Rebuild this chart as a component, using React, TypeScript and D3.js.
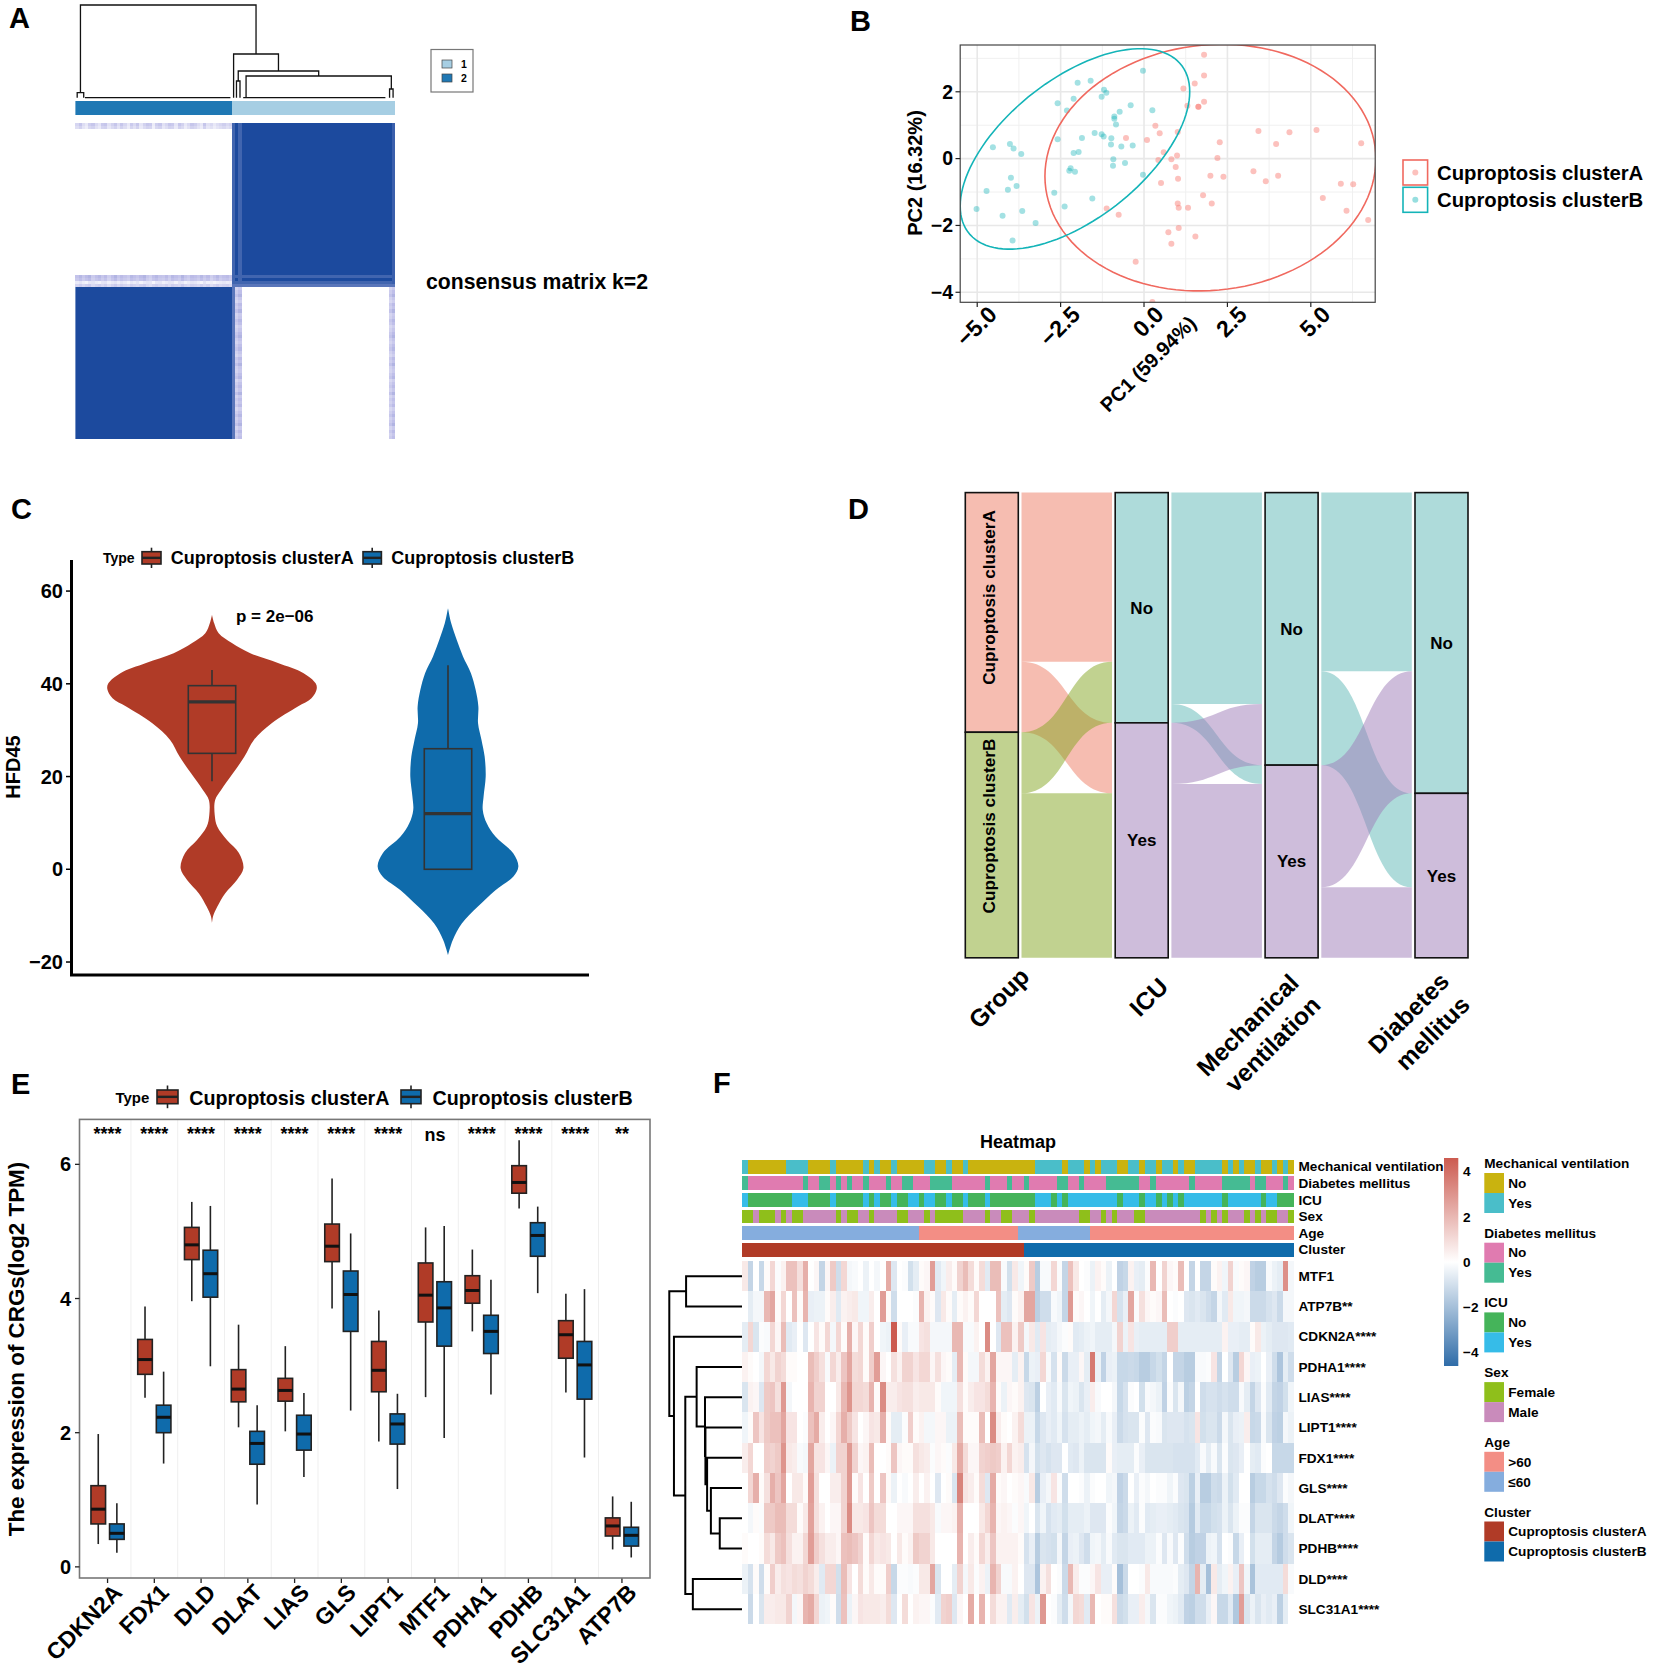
import React from 'react';
import * as d3 from 'd3';

const FONT = "'Liberation Sans', Arial, sans-serif";
const RED = '#B03B27';
const BLUE = '#0F6BAB';
const clusterNames = ['Cuproptosis clusterA', 'Cuproptosis clusterB'];

type Tree = number | { h: number; l: Tree; r: Tree };

// ---- A: consensus matrix
const consensusTree: Tree = {
  h: 92.7,
  l: { h: 5, l: 0.56, r: 2.6 },
  r: {
    h: 43.7,
    l: 49.5,
    r: {
      h: 26.7,
      l: { h: 16.7, l: 50.4, r: 51.5 },
      r: { h: 21.7, l: 53.4, r: { h: 8.7, l: 98.3, r: 99.4 } },
    },
  },
};
const consensusCombs = [[3, 48.5], [52.5, 97]];
const consensusLeftSize = 49;
const consensusTopSize = 51;
const consensusTopStripe = [.22, .3, .18, .12, .26, .3, .2, .14, .28, .3, .16, .24, .3, .18, .3, .22, .12, .28, .2, .3, .14, .24, .3, .28, .1, .26, .3, .16, .22, .3, .28, .14, .3, .24, .12, .2, .3, .26, .18, .12, .3, .16, .2, .12, .18, .22, .26, .2, .24];
const consensusMidStripe = [.32, .38, .3, .36, .4, .28, .34, .38, .3, .36, .26, .34, .4, .3, .36, .32, .28, .38, .34, .3, .36, .4, .3, .26, .34, .38, .32, .3, .36, .28, .38, .34, .3, .4, .32, .28, .36, .34, .3, .38, .3, .36, .26, .32, .38, .3, .34, .36, .3];
const consensusSideStripe = [.36, .28, .34, .4, .3, .26, .36, .32, .4, .28, .3, .38, .34, .26, .3, .36, .4, .32, .28, .34, .38, .3, .26, .36, .32, .4, .3, .28, .34, .38, .26, .32, .36, .3, .4, .28, .34, .3, .36, .26, .32, .38, .3, .34, .4, .28, .36, .3, .34];

// ---- B: PCA
const pcaA = [[1.8, 3.11], [1.8, 2.49], [1.52, 2.25], [1.18, 2.1], [1.8, 1.7], [1.3, 1.58], [1.63, 1.55], [1.63, 1.55], [.34, .98], [.47, .76], [-.54, .62], [.09, .56], [1.01, .8], [2.27, .49], [3.43, .83], [4.36, .79], [5.17, .86], [3.96, .44], [6.51, .46], [.59, .19], [.99, .09], [2.2, .02], [.82, -.02], [.43, -.04], [.95, -.25], [1.99, -.51], [2.38, -.54], [3.28, -.38], [4.02, -.51], [3.65, -.68], [.51, -.73], [1.02, -.6], [5.9, -.75], [6.27, -.77], [5.36, -1.18], [6.07, -1.56], [6.72, -1.84], [1.77, -1.1], [2.03, -1.34], [1.01, -1.34], [1.32, -1.47], [1.04, -1.47], [-1.12, -1.49], [-.76, -1.68], [1.04, -2.08], [.73, -2.2], [1.54, -2.33], [.82, -2.55], [-.25, -3.09], [.25, -4.29]];
const pcaB = [[-.03, 2.63], [-1.99, 2.27], [-1.6, 2.33], [-1.2, 2.06], [-1.13, 1.97], [-1.27, 1.85], [-2.11, 1.79], [-2.59, 1.66], [-2.31, 1.44], [-.4, 1.6], [.25, 1.45], [-.73, 1.4], [-.89, 1.26], [-.89, 1.19], [-.84, 1.02], [-2.59, .58], [-1.86, .62], [-1.48, .77], [-1.27, .73], [-1.21, .66], [-.98, .61], [-.99, .42], [-.68, .36], [-.34, .39], [-4.53, .34], [-4.02, .44], [-3.91, .3], [-3.68, .14], [-2.11, .17], [-1.96, .2], [-.92, -.02], [-.93, -.21], [-.57, -.13], [-2.2, -.29], [-2.24, -.36], [-2.07, -.39], [-.03, -.48], [-3.99, -.57], [-3.82, -.82], [-4.08, -.93], [-4.72, -.97], [-2.69, -1.02], [-1.55, -1.19], [-2.38, -1.43], [-3.65, -1.57], [-5.02, -1.51], [-4.24, -1.71], [-3.25, -1.93], [-3.94, -2.45]];
// centre x, centre y, half width, half height, phase in degrees
const ellipseA = [1.99, -.27, 4.96, 3.69, 4];
const ellipseB = [-2.07, .29, 3.44, 3.0, 34.8];
const pcaXTicks = [-5, -2.5, 0, 2.5, 5];
const pcaXMinor = [-3.75, -1.25, 1.25, 3.75, 6.25];
const pcaYTicks = [2, 0, -2, -4];
const pcaYMinor = [3, 1, -1, -3];

// ---- C: violins, [HFD45, relative density]
const violinA = [[54.9, 0], [53.1, .02], [50.9, .064], [48.8, .19], [46.6, .366], [44.5, .63], [42.3, .875], [40.1, .99], [38.9, 1], [36.9, .95], [35.1, .82], [31.5, .57], [27.9, .4], [24.3, .31], [20.7, .2], [17.1, .087], [14.96, .03], [11.7, .026], [9.2, .05], [6.3, .143], [3.5, .257], [.2, .3], [-2.3, .238], [-5.2, .125], [-8.1, .05], [-10.1, .011], [-11.6, 0]];
const violinB = [[56.3, 0], [53.1, .03], [49.5, .083], [45.9, .143], [42.3, .219], [38.7, .264], [35.1, .29], [31.5, .287], [27.9, .32], [24.3, .35], [20, .36], [15.7, .34], [12.8, .332], [9.9, .37], [7.05, .453], [3.45, .623], [.58, .672], [-1.6, .623], [-4.5, .453], [-8.1, .283], [-11.7, .132], [-15.3, .045], [-18.5, 0]];
// whisker top, q3, median, q1, whisker bottom
const hfdBoxA = [43, 39.6, 36.1, 25, 19];
const hfdBoxB = [44, 26, 12, 0, 0];
const hfdTicks = [60, 40, 20, 0, -20];

// ---- D: alluvial, [from, to, patients]
const alluvialAxes = ['Group', 'ICU', 'Mechanical ventilation', 'Diabetes mellitus'];
const groupToIcu: [string, string, number][] = [['A', 'No', 36], ['A', 'Yes', 15], ['B', 'No', 13], ['B', 'Yes', 35]];
const icuToVent: [string, string, number][] = [['No', 'No', 45], ['No', 'Yes', 4], ['Yes', 'No', 13], ['Yes', 'Yes', 37]];
const ventToDiab: [string, string, number][] = [['No', 'No', 38], ['No', 'Yes', 20], ['Yes', 'No', 26], ['Yes', 'Yes', 15]];
const alluvialFill: Record<string, string> = { A: '#ED7B63', B: '#83A521', No: '#5DB7B5', Yes: '#9D7BB7' };
const alluvialSolid: Record<string, string> = { A: '#F6BDB1', B: '#C1D290', No: '#AEDBDA', Yes: '#CEBDDB' };

// ---- E: boxes, [whisker top, q3, median, q1, whisker bottom]
const crgGenes = ['CDKN2A', 'FDX1', 'DLD', 'DLAT', 'LIAS', 'GLS', 'LIPT1', 'MTF1', 'PDHA1', 'PDHB', 'SLC31A1', 'ATP7B'];
const crgSig = ['****', '****', '****', '****', '****', '****', '****', 'ns', '****', '****', '****', '**'];
const crgBoxA = [[1.98, 1.21, .86, .64, .34], [3.88, 3.39, 3.09, 2.87, 2.52], [5.44, 5.06, 4.8, 4.58, 3.96], [3.61, 2.94, 2.65, 2.46, 2.08], [3.29, 2.81, 2.63, 2.47, 2.02], [5.79, 5.11, 4.78, 4.55, 3.85], [3.82, 3.36, 2.93, 2.61, 1.87], [5.06, 4.53, 4.05, 3.65, 2.53], [4.73, 4.34, 4.12, 3.93, 3.51], [6.36, 5.98, 5.73, 5.57, 5.34], [4.07, 3.67, 3.46, 3.11, 2.6], [1.05, .73, .61, .46, .26]];
const crgBoxB = [[.95, .64, .5, .41, .21], [2.91, 2.41, 2.23, 2, 1.54], [5.38, 4.72, 4.37, 4.02, 2.99], [2.41, 2.02, 1.84, 1.53, .93], [2.59, 2.26, 1.98, 1.74, 1.34], [4.97, 4.41, 4.06, 3.51, 2.33], [2.58, 2.28, 2.13, 1.83, 1.16], [5.08, 4.25, 3.86, 3.29, 1.92], [4.28, 3.75, 3.51, 3.18, 2.57], [5.37, 5.13, 4.94, 4.63, 4.08], [4.14, 3.36, 3.01, 2.5, 1.63], [.97, .59, .47, .31, .14]];
const crgTicks = [0, 2, 4, 6];

// ---- F: heatmap
const mtf1 = [.5, -1.6, 0, -1.5, .1, .9, -.1, .3, 1.4, 1.4, .7, 1.8, 0, .2, -1.6, .2, 1.2, -1.3, .9, -.3, -.2, 0, -.5, 0, -.3, 0, 1.9, -.9, 0, -.1, -1.2, -.7, .1, .2, 2.2, -.8, -.4, .4, .1, 1, 1.5, .8, .1, .8, -.8, 1.5, 1.5, -.2, -1.2, .5,
  -.4, .1, 1.2, -1.9, -.2, -.2, .9, -.1, -1.6, 1.4, .5, 0, -.1, -.5, .3, .1, -.5, 0, -1.7, -1.5, .3, -.6, -.7, -.1, 1.6, 0, 1, .2, .1, 1.5, 0, -1.6, 0, -1.6, -1.6, .1, .3, -.4, 1, -.2, .1, .2, -1.7, -1.9, -1.9, -.2, -.5, -.7, 2.5, -.3];
const atp7b = [0, -.7, -.3, -.3, 1.6, 2, .1, .9, 0, 1.4, .1, 1.7, -.6, -.5, -.5, .1, .4, -.8, .3, .4, .5, -.4, -.4, .4, 0, 2.2, .1, -1.3, 0, 0, 0, -.1, 1.7, .3, .1, -.9, .5, .1, -.7, .1, .3, .1, .9, 0, 0, 0, 1.4, -.7, -.9, .1,
  .3, 2, 2, -1.8, -1.3, -1.3, -.2, -.4, -1.6, 2.3, .1, .2, 0, -.4, 0, -.7, -.3, .9, -1.1, -.6, 2, -.1, .7, .2, .1, .2, 1.5, 0, -.1, 0, -.9, -1, -.8, -1, -1.3, -1.6, -.3, -.8, .5, -.4, -.4, -.3, -1.4, -1.4, -1.4, -1.1, -.9, -1.4, -.3, -.3];
const cdkn2a = [-.7, .9, -1, -.1, -.2, .9, .2, 1.5, -.8, -.6, 0, -.9, 0, .6, .1, .9, -.3, .9, .1, 1.8, .2, .9, .1, 1.1, 0, -.4, -.5, 4.5, .1, -.6, -.2, -.2, .6, .7, -.3, -.3, -.3, -.3, 1.6, 1.6, -.2, -.2, .3, 0, 2.6, 0, -.9, 1.4, 1.4, .3,
  1.2, -.3, .5, -.8, .6, -.7, -.6, -.3, -.1, .1, -.8, -.7, -.5, -.4, -.7, -.7, -.7, -.3, 1, -.5, .6, -.6, -.7, -.7, -.7, -.7, -.7, 1.1, 1.1, -.7, -.7, -.7, -.7, -.7, -.7, -.7, -.7, .3, -.6, -.6, -.7, -.7, .1, .5, -.5, -.7, -.9, -.9, -.9, -.8];
const pdha1 = [.3, .1, 0, -.3, .9, .5, 1, .8, .1, .1, 0, 0, 1.5, 1.1, .7, -.2, .9, .4, 1.3, 2, .8, .9, .1, 1.1, 2.2, .2, 0, .7, .3, 1, 1, .6, .9, .9, .2, .7, .2, .1, -.7, 1.6, .1, -.3, -.3, .8, .3, 2, .2, .2, .2, -.7,
  .3, -1.5, -.5, -.6, .9, -.2, -1.1, .1, -1.4, -.6, -.6, .2, -.7, 3, -.5, -1.7, -.6, -.5, -1.5, -1.5, -1.4, -1.5, -1.9, -1.9, -1.5, -1.2, -1.6, 0, -1.6, -1.6, -1.9, -1.9, -.2, -.2, -.1, .6, -1.6, 0, -.9, -1.9, .9, .2, -.6, -.5, 0, -.6, -1.3, -2.2, -.7, -1.3];
const lias = [-1, .3, .2, -.9, 1.2, 1.3, .7, 2.3, -.3, 0, 0, 0, 1.7, 1, 1, 0, 0, .5, 1.6, 2.4, .9, .9, .8, 1.7, .1, 2.6, .4, .4, .6, .7, .7, .4, .5, .5, .5, .1, -.4, -.4, -.4, .7, .1, .4, .6, .6, .8, 1.7, .1, -.5, .2, .1,
  .3, -.9, -1, -1.8, 0, -.6, -.8, -.2, -1, -.4, -.5, -1, -.6, .4, -.2, 0, 0, -.3, -1.5, -1.1, -.1, 0, -1.2, -.2, -.3, -.5, -1.7, -.1, -1, -.3, -1.8, -1.6, 0, -1.3, -1.1, -1.1, -1.3, -1.1, -1.3, -1.3, -.2, -.7, -1.6, -.9, -.1, -.8, -1.6, -1.7, -1.2, -.4];
const lipt1 = [-.4, .1, 1.3, .6, 1.2, 1.4, 1.4, 2, .6, .6, 0, -.1, 1.4, 1.9, .4, 0, .2, .9, 1.8, 1.2, .6, 0, .2, .6, .5, 1.8, .1, -.7, -.7, -.1, 1.1, .1, .3, -.3, -.3, .2, .2, -.5, -.5, 1.5, .1, .1, .1, 1.5, 0, 2.6, .4, .1, 0, .3,
  .8, -.5, -.5, -1.5, -.9, -.6, -.8, -.4, -1.1, -.7, -.7, -.5, -.7, -.4, -.3, -.7, -.2, -.6, -1.4, -1.1, -1, -1, -.1, -.9, -.1, -.2, -1, -.9, -.9, -.9, -1.1, -1, .6, -1.2, -1, -1, -1.4, -.3, -1, -.6, -.5, .4, -1.5, -1.4, -.2, -1, -1.7, -1.8, -.3, -.5];
const fdx1 = [.4, .9, 0, 0, 1.1, 1, 1.2, 2.4, .5, .4, -.2, -.3, 2, .6, .6, .2, -.5, 1, 1, 2.3, 1, .2, .3, 1.5, 0, 0, .1, 1.3, .2, .1, .1, .7, .5, .4, -.1, .2, .1, -.1, .5, 1.9, .8, .2, .2, 1, 1.1, 1.2, 1.1, .3, .9, .3,
  .4, -1.1, -.3, -1.2, -.9, -1.1, -.9, -.9, 0, -.8, -.9, -.5, -1, -1, -1, -1, .1, -.6, -.7, -.7, -.7, -.1, -.6, -1, -1, -1, -1, -1, -1.1, -1.1, -1.1, -1.1, -.8, -.2, -.7, -.2, -1, -.1, -1, -.9, -.6, 0, -.7, -.8, -.1, 0, -1.5, -1.5, -1.5, -1.5];
const gls = [0, .9, 1.8, .1, .7, 1.8, 1.3, 2, 0, .5, .5, .1, 2.2, .7, 0, 0, .4, .4, 1, 2.3, .1, .6, 0, 1.2, 0, 1.3, .1, -.5, 0, -.2, 0, .4, 0, .3, 0, -.9, 0, .1, -1, 2.8, .6, .4, .1, .8, -.9, 1.9, .1, .2, 0, .1,
  .2, -.2, .5, -1.9, -.6, -.3, .6, -.1, -1.3, 0, 0, -.1, -.5, -.1, 0, 0, -.4, -.3, -1.7, -1.4, 0, -.6, -.1, -.3, 0, -.1, -.1, -.4, -.1, -.9, -1, -1.8, -.6, -1.9, -1.9, -1.3, -1.4, -.5, -1.2, -.8, 0, 0, -1.9, -1.5, -1.5, -1.1, -1.3, -.9, -.1, -.3];
const dlat = [0, -.3, .1, -.1, 1.2, 1.2, 1.5, 1.5, .8, .8, .1, .5, 2.1, .7, .3, 0, .2, .2, 1, 2.6, .5, .5, .6, 1.3, .8, .8, 0, 0, .2, .2, .2, .7, .7, .7, .5, -.2, .2, .2, .3, 1.8, 0, 0, 0, .5, .9, 1.7, .2, .3, .2, -.1,
  .2, -.4, 0, -1, -.4, -1.1, -.8, -.7, -1.2, -.7, -.7, -.7, -.5, -.9, -.9, -.9, -.1, -.4, -1.6, -1.4, -.5, -.8, -.1, -.8, -.7, -.6, -.6, -.7, -.8, -1, -1.1, -2, -.8, -1.5, -1.5, -1.2, -1.1, -.5, -1, -.5, -.1, -.1, -1.6, -1, -1, -1, -1.4, -1.6, -1.3, -.4];
const pdhb = [.1, 0, 0, .1, .8, .5, 1.2, 1.4, .7, .3, .3, .9, 2.2, 1.1, .7, .4, .4, .2, 1.4, 1.5, 1.3, 1, .1, .9, .5, .6, .5, 0, .5, .1, .3, 1.2, 1, 1, .5, 0, 0, 0, 0, 1.7, 0, .4, .1, .9, .4, 1.3, .3, .3, .3, .3,
  .1, -1.1, -.6, -1.9, -1, -1.1, -1.2, -.3, -1.6, -.6, -.5, -.9, -1.3, -.4, -.3, -.7, -.2, -.8, -1, -1, -.8, -.8, -.8, -.5, -.5, -.1, -.9, -.2, -.9, -.1, -1.3, -1.9, -1.7, -1.7, -.5, -.4, -1.1, 0, -.1, -1.5, -.6, 0, -1.2, -.7, -.7, -.7, -1.6, -2, -1.3, -1];
const dld = [-.5, -1.1, .1, -1.3, .1, 1.1, .4, .7, .6, .8, .7, 1, .8, .4, -.8, .9, .9, -1.2, 1.5, .6, 0, .8, .1, .5, .1, .1, 1.1, -1.5, -.1, -.1, -.2, -.1, .5, .5, 2, -1, 0, 0, -.7, 1, -.3, .5, -.1, .3, -.5, 1.7, 1, -.2, -.2, .3,
  0, -.9, -.9, -2.2, .3, .7, 0, -.1, -1.4, 1.6, .4, -.1, -.1, .2, .6, -.6, -.6, .1, -2.4, -1.4, 0, 0, -.1, .5, -.2, -.2, -.2, -.2, -.1, -.7, -.9, -1.6, 1.7, -.7, -2.4, .5, -.7, -.4, .3, -.6, 1.3, -.4, -2.3, -.8, -.8, -.8, -.8, -.8, .8, -.2];
const slc31a1 = [0, -1.4, 0, -1, .4, .4, .5, .5, 1, -.3, .2, 1.7, 1.9, .9, -.5, -.4, .1, -1.3, 1.4, -.5, .2, .6, .5, .5, .5, .4, .8, -.9, 0, .8, 0, .3, .2, .2, -.1, -.8, 1, 1.1, -.9, .2, 0, 1.9, 0, 1.7, 0, .8, .3, .3, -.8, .4,
  -.7, -1.2, .6, -.5, 2.3, 0, -.1, -.7, -1.3, -.3, .9, .8, -.8, 1.6, 0, .1, .1, .7, -1.4, -1.2, -.6, -.6, .4, -.3, -1, -.1, -.1, -.4, -.5, -.8, -1.7, -1.8, -1.3, -1.3, -.6, .2, -1.5, -1.5, -.8, -2.1, 2.2, -1, -.5, -1, -.6, -.8, -.6, -1.8, -.7, 0];
const heatRows = [mtf1, atp7b, cdkn2a, pdha1, lias, lipt1, fdx1, gls, dlat, pdhb, dld, slc31a1];
const heatLabels = ['MTF1', 'ATP7B**', 'CDKN2A****', 'PDHA1****', 'LIAS****', 'LIPT1****', 'FDX1****', 'GLS****', 'DLAT****', 'PDHB****', 'DLD****', 'SLC31A1****'];
const heatTree: Tree = {
  h: 100,
  l: { h: 76.9, l: 0, r: 1 },
  r: {
    h: 93.6,
    l: 2,
    r: {
      h: 78,
      l: { h: 62.4, l: 3, r: { h: 50.9, l: 4, r: { h: 50.3, l: 5, r: { h: 48, l: 6, r: { h: 42.8, l: 7, r: { h: 30.6, l: 8, r: 9 } } } } } },
      r: { h: 67.6, l: 10, r: 11 },
    },
  },
};
const colourTicks = [4, 2, 0, -2, -4];

// run lengths of the annotation tracks, alternating from the first category
const ventRuns = [1, 7, 4, 4, 1, 5, 1, 1, 1, 2, 1, 5, 2, 2, 1, 2, 1, 12, 5, 1, 3, 1, 1, 1, 3, 2, 2, 1, 2, 1, 2, 1, 1, 2, 5, 1, 1, 1, 1, 2, 1, 2, 1, 1, 1, 1];
const diabRuns = [1, 10, 1, 2, 2, 1, 1, 1, 1, 2, 1, 3, 1, 2, 2, 3, 4, 6, 1, 3, 1, 2, 1, 5, 2, 2, 1, 4, 6, 2, 1, 6, 1, 5, 5, 1, 2, 3, 1, 1];
const icuRuns = [1, 8, 3, 4, 1, 5, 1, 1, 1, 2, 1, 2, 2, 1, 2, 2, 1, 2, 1, 3, 1, 8, 3, 1, 1, 1, 9, 1, 3, 1, 2, 1, 1, 1, 1, 1, 7, 1, 6, 1, 2, 3];
const sexRuns = [2, 1, 3, 1, 1, 1, 2, 6, 1, 1, 2, 2, 1, 4, 2, 3, 1, 1, 5, 4, 1, 2, 2, 3, 1, 8, 2, 2, 1, 1, 1, 3, 2, 10, 1, 1, 1, 1, 1, 3, 1, 1, 1, 1, 2, 2, 1];
const ageRuns = [32, 18, 13, 37];
const clusterRuns = [51, 49];
const annotationTracks = [
  { name: 'Mechanical ventilation', runs: ventRuns, colors: ['#4ABEC9', '#C9B30F'] },
  { name: 'Diabetes mellitus', runs: diabRuns, colors: ['#45BB93', '#E07BB0'] },
  { name: 'ICU', runs: icuRuns, colors: ['#36BCE8', '#45B45A'] },
  { name: 'Sex', runs: sexRuns, colors: ['#8FBF1B', '#C98BBB'] },
  { name: 'Age', runs: ageRuns, colors: ['#85ADDE', '#F38E85'] },
  { name: 'Cluster', runs: clusterRuns, colors: [RED, BLUE] },
];
const legendGroups = [
  { title: 'Mechanical ventilation', items: [['No', '#C9B30F'], ['Yes', '#4ABEC9']] },
  { title: 'Diabetes mellitus', items: [['No', '#E07BB0'], ['Yes', '#45BB93']] },
  { title: 'ICU', items: [['No', '#45B45A'], ['Yes', '#36BCE8']] },
  { title: 'Sex', items: [['Female', '#8FBF1B'], ['Male', '#C98BBB']] },
  { title: 'Age', items: [['>60', '#F38E85'], ['≤60', '#85ADDE']] },
  { title: 'Cluster', items: [[clusterNames[0], RED], [clusterNames[1], BLUE]] },
];

// ---- helpers
const T = ({ x, y, size = 14, anchor = 'start', rot = 0, mid = true, fill = '#000', children }: any) => (
  <text transform={`translate(${x},${y}) rotate(${rot})`} fontFamily={FONT} fontWeight="bold" fontSize={size}
    textAnchor={anchor} dy={mid ? '.35em' : 0} fill={fill}>{children}</text>
);

// nested merges to an elbow path; place(pos, height) gives the pixel point
function treePath(node: Tree, pos: (leaf: number) => number, place: (p: number, h: number) => number[]) {
  const parts: string[] = [];
  const walk = (n: Tree): { p: number; h: number } => {
    if (typeof n === 'number') return { p: pos(n), h: 0 };
    const a = walk(n.l);
    const b = walk(n.r);
    const pts = [place(a.p, a.h), place(a.p, n.h), place(b.p, n.h), place(b.p, b.h)];
    parts.push('M' + pts.map((q) => q.join(',')).join('L'));
    return { p: (a.p + b.p) / 2, h: n.h };
  };
  walk(node);
  return parts.join('');
}

const expandRuns = (runs: number[], colors: string[]) =>
  runs.flatMap((n, i) => d3.range(n).map(() => colors[i % 2]));

const LegendKey = ({ x, y, w, h, whisker, fill }: any) => (
  <g stroke="#222" strokeWidth={1.6}>
    <line x1={x + w / 2} x2={x + w / 2} y1={y - whisker} y2={y + h + whisker} />
    <rect x={x} y={y} width={w} height={h} fill={fill} />
    <line x1={x} x2={x + w} y1={y + h / 2} y2={y + h / 2} strokeWidth={2.4} />
  </g>
);

// ---- panels
function PanelA() {
  const x = d3.scaleLinear().domain([0, 100]).range([75.4, 395]);
  const y = d3.scaleLinear().domain([0, 100]).range([123, 439]);
  const h = d3.scaleLinear().domain([0, 92.7]).range([97.7, 5]);
  const cell = d3.scaleLinear<string>().domain([0, .35, 1]).range(['#fff', '#BDBDE8', '#1C4A9E']);
  const L = consensusLeftSize;
  const Top = consensusTopSize;
  const cells: { r: number; c: number; v: number }[] = [];
  consensusTopStripe.forEach((v, c) => {
    cells.push({ r: 0, c, v }, { r: 1, c, v: v * 0.8 }, { r: 48, c, v: consensusMidStripe[c] }, { r: 49, c, v: consensusMidStripe[c] * .9 }, { r: 50, c, v: v * .5 }, { r: 51, c, v: consensusMidStripe[c] * .7 });
  });
  consensusSideStripe.forEach((v, i) => {
    const r = Top + i;
    cells.push({ r, c: L, v: .75 }, { r, c: L + 1, v: v * .8 }, { r, c: L + 2, v }, { r, c: 98, v: v * .8 }, { r, c: 99, v });
  });
  d3.range(L, 100).forEach((c) => {
    cells.push({ r: 48, c, v: .85 }, { r: 50, c, v: .85 }, { r: 51, c, v: .75 });
  });
  d3.range(0, Top).forEach((r) => {
    cells.push({ r, c: L, v: .85 }, { r, c: L + 2, v: .85 }, { r, c: 99, v: .88 });
  });
  return (
    <g>
      <T x={9} y={18} size={29}>A</T>
      <path d={treePath(consensusTree, (s) => x(s), (p, ht) => [p, h(ht)])} fill="none" stroke="#111" strokeWidth={1.3} />
      {consensusCombs.map((c, i) => <line key={i} x1={x(c[0])} x2={x(c[1])} y1={h(0)} y2={h(0)} stroke="#111" strokeWidth={1.3} />)}
      <rect x={x(0)} y={101} width={x(L) - x(0)} height={14} fill="#1F78B4" />
      <rect x={x(L)} y={101} width={x(100) - x(L)} height={14} fill="#A6CEE3" />
      <rect x={x(0)} y={y(Top)} width={x(L) - x(0)} height={y(100) - y(Top)} fill={cell(1)} />
      <rect x={x(L)} y={y(0)} width={x(100) - x(L)} height={y(Top) - y(0)} fill={cell(1)} />
      {cells.map((d, i) => (
        <rect key={i} x={x(d.c)} y={y(d.r)} width={x(1) - x(0)} height={y(1) - y(0)} fill={cell(d.v)} shapeRendering="crispEdges" />
      ))}
      <rect x={431} y={49.5} width={42} height={42.5} fill="#fff" stroke="#777" strokeWidth={1.2} />
      <rect x={442} y={60} width={10} height={8} fill="#A6CEE3" stroke="#444" strokeWidth={.7} />
      <rect x={442} y={74} width={10} height={8} fill="#1F78B4" stroke="#444" strokeWidth={.7} />
      <T x={464} y={64} size={10.5} anchor="middle">1</T>
      <T x={464} y={78} size={10.5} anchor="middle">2</T>
      <T x={426} y={282} size={21.2}>consensus matrix k=2</T>
    </g>
  );
}

function PanelB() {
  const x = d3.scaleLinear().domain([-5.51, 6.93]).range([960.2, 1375.2]);
  const y = d3.scaleLinear().domain([-4.3, 3.4]).range([302.3, 45]);
  const outline = (e: number[]) => {
    const [cx, cy, a, b, ph] = e;
    return d3.line<number>()
      .x((t) => x(cx + a * Math.cos(t * Math.PI / 180)))
      .y((t) => y(cy + b * Math.sin((t + ph) * Math.PI / 180)))(d3.range(0, 363, 3)) as string;
  };
  const colA = '#F0695F';
  const colB = '#14B4B8';
  return (
    <g>
      <T x={850} y={20.5} size={29}>B</T>
      <defs><clipPath id="pca"><rect x={960.2} y={45} width={415} height={257.3} /></clipPath></defs>
      {pcaXMinor.map((v) => <line key={v} x1={x(v)} x2={x(v)} y1={45} y2={302.3} stroke="#f0f0f0" strokeWidth={1} />)}
      {pcaYMinor.map((v) => <line key={v} y1={y(v)} y2={y(v)} x1={960.2} x2={1375.2} stroke="#f0f0f0" strokeWidth={1} />)}
      {pcaXTicks.map((v) => <line key={v} x1={x(v)} x2={x(v)} y1={45} y2={302.3} stroke="#e8e8e8" strokeWidth={1.6} />)}
      {pcaYTicks.map((v) => <line key={v} y1={y(v)} y2={y(v)} x1={960.2} x2={1375.2} stroke="#e8e8e8" strokeWidth={1.6} />)}
      <g clipPath="url(#pca)">
        {pcaA.map((d, i) => <circle key={i} cx={x(d[0])} cy={y(d[1])} r={3} fill="#F8766D" opacity={.45} />)}
        {pcaB.map((d, i) => <circle key={i} cx={x(d[0])} cy={y(d[1])} r={3} fill="#18B5B8" opacity={.4} />)}
        <path d={outline(ellipseA)} fill="none" stroke={colA} strokeWidth={1.6} />
        <path d={outline(ellipseB)} fill="none" stroke={colB} strokeWidth={1.6} />
      </g>
      <rect x={960.2} y={45} width={415} height={257.3} fill="none" stroke="#444" strokeWidth={1.2} />
      {pcaXTicks.map((v) => (
        <g key={v}>
          <line x1={x(v)} x2={x(v)} y1={302.3} y2={307} stroke="#222" strokeWidth={1.2} />
          <T x={x(v) + 21} y={316} size={23} anchor="end" rot={-45} mid={false}>{d3.format('.1f')(v)}</T>
        </g>
      ))}
      {pcaYTicks.map((v) => (
        <g key={v}>
          <line x1={955.5} x2={960.2} y1={y(v)} y2={y(v)} stroke="#222" strokeWidth={1.2} />
          <T x={953} y={y(v)} size={19.5} anchor="end">{d3.format('d')(v)}</T>
        </g>
      ))}
      <T x={915} y={173} size={20} anchor="middle" rot={-90}>PC2 (16.32%)</T>
      <T x={1148} y={364} size={20} anchor="middle" rot={-45}>PC1 (59.94%)</T>
      {[0, 1].map((i) => (
        <g key={i}>
          <rect x={1403} y={160 + i * 27.3} width={24.6} height={25} fill="#fff" stroke={i ? colB : colA} strokeWidth={1.6} />
          <circle cx={1415.3} cy={172.5 + i * 27.3} r={3} fill={i ? '#18B5B8' : '#F8766D'} opacity={.45} />
          <T x={1437} y={172.5 + i * 27.3} size={20.3}>{clusterNames[i]}</T>
        </g>
      ))}
    </g>
  );
}

function PanelC() {
  const y = d3.scaleLinear().domain([-22.8, 66.7]).range([975, 560]);
  const w = d3.scaleLinear().domain([0, 1]).range([0, 104.7]);
  const x = d3.scalePoint<number>().domain([0, 1]).range([212, 448]);
  const violin = (cx: number) => d3.area<number[]>()
    .curve(d3.curveCatmullRom)
    .y((d) => y(d[0])).x0((d) => cx - w(d[1])).x1((d) => cx + w(d[1]));
  const boxes = [hfdBoxA, hfdBoxB];
  const hw = 23.7;
  return (
    <g>
      <T x={11} y={508.5} size={29}>C</T>
      <path d={violin(x(0)!)(violinA as any) as string} fill={RED} />
      <path d={violin(x(1)!)(violinB as any) as string} fill={BLUE} />
      {boxes.map((b, i) => (
        <g key={i} stroke="#333" fill="none" strokeWidth={1.6}>
          <line x1={x(i)} x2={x(i)} y1={y(b[0])} y2={y(b[1])} />
          <line x1={x(i)} x2={x(i)} y1={y(b[3])} y2={y(b[4])} />
          <rect x={x(i)! - hw} width={hw * 2} y={y(b[1])} height={y(b[3]) - y(b[1])} />
          <line x1={x(i)! - hw} x2={x(i)! + hw} y1={y(b[2])} y2={y(b[2])} strokeWidth={3.4} />
        </g>
      ))}
      <line x1={71.5} x2={71.5} y1={560} y2={976} stroke="#000" strokeWidth={3} />
      <line x1={70} x2={589} y1={975} y2={975} stroke="#000" strokeWidth={3} />
      {hfdTicks.map((v) => (
        <g key={v}>
          <line x1={66} x2={71} y1={y(v)} y2={y(v)} stroke="#000" strokeWidth={1.5} />
          <T x={63} y={y(v)} size={20} anchor="end">{d3.format('d')(v)}</T>
        </g>
      ))}
      <T x={13} y={767} size={20} anchor="middle" rot={-90}>HFD45</T>
      <T x={236} y={616} size={17}>p = 2e−06</T>
      <T x={103} y={558} size={14}>Type</T>
      <LegendKey x={142} y={551.7} w={19} h={12.3} whisker={4} fill={RED} />
      <T x={170.7} y={558} size={18}>{clusterNames[0]}</T>
      <LegendKey x={363} y={551.7} w={18.4} h={12.3} whisker={4} fill={BLUE} />
      <T x={391.3} y={558} size={18}>{clusterNames[1]}</T>
    </g>
  );
}

function PanelD() {
  const total = 99;
  const x = d3.scalePoint<string>().domain(alluvialAxes).range([991.8, 1441.5]);
  const y = d3.scaleLinear().domain([0, total]).range([492.6, 957.8]);
  const half = 26.5;
  const gap = 3.2;
  const strata = (rows: [string, string, number][], key: 0 | 1, order: string[]) => {
    let acc = 0;
    return order.map((k) => {
      const n = d3.sum(rows.filter((r) => r[key] === k), (r) => r[2]);
      const s = { k, from: acc, to: acc + n };
      acc += n;
      return s;
    });
  };
  const pairs = [
    { a: alluvialAxes[0], b: alluvialAxes[1], rows: groupToIcu, left: ['A', 'B'] },
    { a: alluvialAxes[1], b: alluvialAxes[2], rows: icuToVent, left: ['No', 'Yes'] },
    { a: alluvialAxes[2], b: alluvialAxes[3], rows: ventToDiab, left: ['No', 'Yes'] },
  ];
  const right = ['No', 'Yes'];
  const flows = pairs.flatMap((p) => {
    const lTop: Record<string, number> = {};
    strata(p.rows, 0, p.left).forEach((s) => { lTop[s.k] = s.from; });
    const rTop: Record<string, number> = {};
    strata(p.rows, 1, right).forEach((s) => { rTop[s.k] = s.from; });
    const x0 = x(p.a)! + half + gap;
    const x1 = x(p.b)! - half - gap;
    const xm = (x0 + x1) / 2;
    return p.rows.map(([f, t, n]) => {
      const y0 = lTop[f]; const y1 = rTop[t];
      lTop[f] += n; rTop[t] += n;
      const d = `M${x0},${y(y0)}C${xm},${y(y0)} ${xm},${y(y1)} ${x1},${y(y1)}L${x1},${y(y1 + n)}C${xm},${y(y1 + n)} ${xm},${y(y0 + n)} ${x0},${y(y0 + n)}Z`;
      return { d, f };
    });
  });
  const cols = [
    { axis: alluvialAxes[0], s: strata(groupToIcu, 0, ['A', 'B']) },
    { axis: alluvialAxes[1], s: strata(groupToIcu, 1, right) },
    { axis: alluvialAxes[2], s: strata(icuToVent, 1, right) },
    { axis: alluvialAxes[3], s: strata(ventToDiab, 1, right) },
  ];
  return (
    <g>
      <T x={848} y={509} size={29}>D</T>
      {flows.map((f, i) => <path key={i} d={f.d} fill={alluvialFill[f.f]} opacity={.5} />)}
      {cols.map((c) => c.s.map((s) => (
        <g key={c.axis + s.k}>
          <rect x={x(c.axis)! - half} y={y(s.from)} width={half * 2} height={y(s.to) - y(s.from)} fill={alluvialSolid[s.k]} stroke="#111" strokeWidth={1.6} />
          {s.k === 'A' || s.k === 'B' ? (
            <T x={x(c.axis)! - 2.5} y={(y(s.from) + y(s.to)) / 2 - (s.k === 'A' ? 15 : 19)} size={17.2} anchor="middle" rot={-90}>
              {clusterNames[s.k === 'A' ? 0 : 1]}
            </T>
          ) : (
            <T x={x(c.axis)!} y={(y(s.from) + y(s.to)) / 2} size={17} anchor="middle">{s.k}</T>
          )}
        </g>
      )))}
      <T x={x(alluvialAxes[0])! + 7} y={998} size={24.5} anchor="middle" rot={-45}>Group</T>
      <T x={x(alluvialAxes[1])! + 7} y={997} size={24.5} anchor="middle" rot={-45}>ICU</T>
      <T x={x(alluvialAxes[2])! - 44} y={1025} size={24.5} anchor="middle" rot={-45}>Mechanical</T>
      <T x={x(alluvialAxes[2])! - 19} y={1044} size={24.5} anchor="middle" rot={-45}>ventilation</T>
      <T x={x(alluvialAxes[3])! - 33} y={1013} size={24.5} anchor="middle" rot={-45}>Diabetes</T>
      <T x={x(alluvialAxes[3])! - 9} y={1033} size={24.5} anchor="middle" rot={-45}>mellitus</T>
    </g>
  );
}

function PanelE() {
  const x = d3.scalePoint<string>().domain(crgGenes).range([79.5, 650]).padding(.6);
  const y = d3.scaleLinear().domain([-.166, 6.67]).range([1578, 1119.4]);
  const step = x.step();
  const dodge = 9.3;
  const bw = 14.6;
  const box = (b: number[], cx: number, fill: string, key: string) => (
    <g key={key} stroke="#222" strokeWidth={1.6}>
      <line x1={cx} x2={cx} y1={y(b[0])} y2={y(b[4])} />
      <rect x={cx - bw / 2} width={bw} y={y(b[1])} height={y(b[3]) - y(b[1])} fill={fill} />
      <line x1={cx - bw / 2} x2={cx + bw / 2} y1={y(b[2])} y2={y(b[2])} stroke="#111" strokeWidth={3} />
    </g>
  );
  return (
    <g>
      <T x={11} y={1084} size={29}>E</T>
      {crgGenes.slice(1).map((g) => <line key={g} x1={x(g)! - step / 2} x2={x(g)! - step / 2} y1={1119.4} y2={1578} stroke="#efefef" strokeWidth={1} />)}
      {crgGenes.map((g, i) => (
        <g key={g}>
          {box(crgBoxA[i], x(g)! - dodge, RED, g + 'a')}
          {box(crgBoxB[i], x(g)! + dodge, BLUE, g + 'b')}
          {crgSig[i] === 'ns'
            ? <T x={x(g)} y={1141} size={18} anchor="middle" mid={false}>ns</T>
            : <T x={x(g)} y={1140} size={18} anchor="middle" mid={false}>{crgSig[i]}</T>}
          <line x1={x(g)} x2={x(g)} y1={1578} y2={1583} stroke="#222" strokeWidth={1.3} />
          <T x={x(g)! + 16} y={1594} size={23} anchor="end" rot={-45} mid={false}>{g}</T>
        </g>
      ))}
      <rect x={79.5} y={1119.4} width={570.5} height={458.6} fill="none" stroke="#777" strokeWidth={1.6} />
      {crgTicks.map((v) => (
        <g key={v}>
          <line x1={75} x2={79.5} y1={y(v)} y2={y(v)} stroke="#222" strokeWidth={1.3} />
          <T x={71} y={y(v)} size={20} anchor="end">{v}</T>
        </g>
      ))}
      <T x={16} y={1349} size={22.4} anchor="middle" rot={-90}>The expression of CRGs(log2 TPM)</T>
      <T x={115.4} y={1097.6} size={15}>Type</T>
      <LegendKey x={157} y={1090} w={21} h={13.7} whisker={4.5} fill={RED} />
      <T x={189.3} y={1097.6} size={19.7}>{clusterNames[0]}</T>
      <LegendKey x={401} y={1090} w={20} h={13.7} whisker={4.5} fill={BLUE} />
      <T x={432.5} y={1097.6} size={19.7}>{clusterNames[1]}</T>
    </g>
  );
}

function PanelF() {
  const col = d3.scaleBand<number>().domain(d3.range(100)).range([742, 1294]);
  const row = d3.scaleBand<number>().domain(d3.range(heatRows.length)).range([1261, 1624.3]);
  const track = d3.scaleBand<number>().domain(d3.range(annotationTracks.length)).range([1159.7, 1256.7]).paddingInner(.16);
  const h = d3.scaleLinear().domain([0, 100]).range([742, 669.3]);
  const heat = d3.scaleLinear<string>().domain([-5.6, 0, 3.7]).range(['#2F6CA8', '#ffffff', '#CC5B50']).clamp(true);
  const bar = d3.scaleLinear().domain([-4.6, 4.6]).range([1366, 1158]);
  const legendStep = 69.7;
  return (
    <g>
      <T x={713} y={1083} size={29}>F</T>
      <T x={1018} y={1142} size={18} anchor="middle">Heatmap</T>
      {annotationTracks.map((t, i) => {
        const cells = expandRuns(t.runs, t.colors);
        return (
          <g key={t.name}>
            {cells.map((c, j) => <rect key={j} x={col(j)} y={track(i)} width={col.bandwidth()} height={track.bandwidth()} fill={c} shapeRendering="crispEdges" />)}
            <T x={1298.5} y={track(i)! + track.bandwidth() / 2} size={13.6}>{t.name}</T>
          </g>
        );
      })}
      {heatRows.map((vals, r) => (
        <g key={r}>
          {vals.map((v, c) => <rect key={c} x={col(c)} y={row(r)} width={col.bandwidth()} height={row.bandwidth()} fill={heat(v)} shapeRendering="crispEdges" />)}
          <T x={1298.5} y={row(r)! + row.bandwidth() / 2} size={13.6}>{heatLabels[r]}</T>
        </g>
      ))}
      <path d={treePath(heatTree, (i) => row(i)! + row.bandwidth() / 2, (p, ht) => [h(ht), p])} fill="none" stroke="#000" strokeWidth={2} />
      <defs>
        <linearGradient id="colourbar" x1="0" x2="0" y1="1" y2="0">
          <stop offset="0" stopColor="#2F6CA8" />
          <stop offset="0.5" stopColor="#ffffff" />
          <stop offset="1" stopColor="#CC5B50" />
        </linearGradient>
      </defs>
      <rect x={1444} y={bar(4.6)} width={14.3} height={bar(-4.6) - bar(4.6)} fill="url(#colourbar)" />
      {colourTicks.map((v) => <T key={v} x={1463} y={bar(v)} size={13.6}>{d3.format('d')(v)}</T>)}
      {legendGroups.map((g, i) => {
        const ty = 1163.3 + i * legendStep;
        return (
          <g key={g.title}>
            <T x={1484.3} y={ty} size={13.6}>{g.title}</T>
            {g.items.map((it, j) => (
              <g key={it[0]}>
                <rect x={1484.3} y={ty + 9.7 + j * 20} width={19.7} height={20} fill={it[1]} />
                <T x={1508.3} y={ty + 19.7 + j * 20} size={13.6}>{it[0]}</T>
              </g>
            ))}
          </g>
        );
      })}
    </g>
  );
}

export default function App() {
  return (
    <svg width={1653} height={1670} viewBox="0 0 1653 1670" style={{ position: 'absolute', left: 0, top: 0, background: '#fff' }}>
      <PanelA />
      <PanelB />
      <PanelC />
      <PanelD />
      <PanelE />
      <PanelF />
    </svg>
  );
}
